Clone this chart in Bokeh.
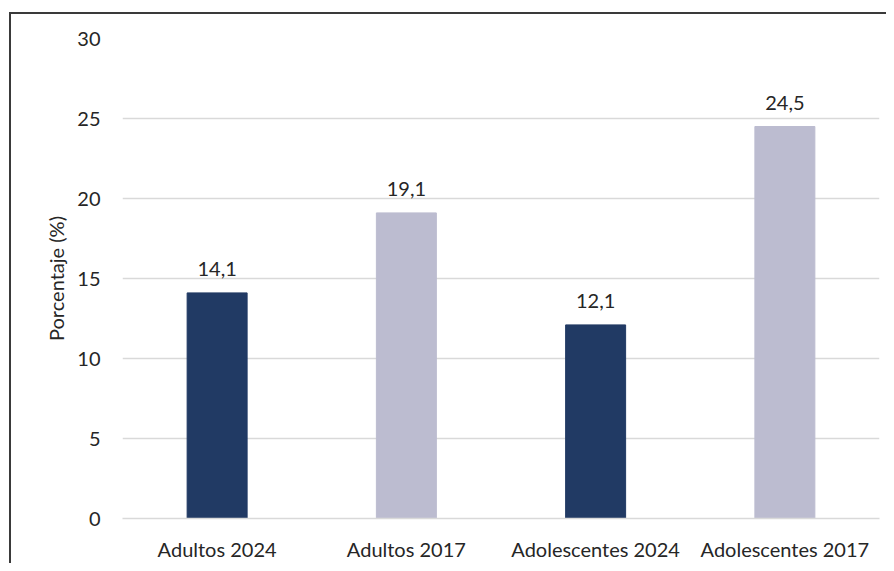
from bokeh.plotting import figure
from bokeh.models import ColumnDataSource, FixedTicker, LabelSet
from bokeh.core.properties import value
from bokeh.embed import file_html
from bokeh.resources import INLINE

categories = ["Adultos 2024", "Adultos 2017", "Adolescentes 2024", "Adolescentes 2017"]
values = [14.1, 19.1, 12.1, 24.5]
colors = ["#213a64", "#bcbcd0", "#213a64", "#bcbcd0"]
y_ticks = [0, 5, 10, 15, 20, 25, 30]
y_title = "Porcentaje (%)"

FONT = "Lato"
TEXT = "#262626"
FS = "20px"

labels = [f"{v:.1f}".replace(".", ",") for v in values]
src = ColumnDataSource(dict(cat=categories, val=values, col=colors, lab=labels))

p = figure(x_range=categories, y_range=(0, 30), width=886, height=563,
           output_backend="svg", toolbar_location=None,
           min_border_left=122, min_border_right=7, min_border_top=38, min_border_bottom=45)

p.vbar(x="cat", top="val", width=0.317, color="col", source=src)

p.add_layout(LabelSet(x="cat", y="val", text="lab", source=src, text_align="center",
                      text_baseline="alphabetic", y_offset=17, text_font=value(FONT),
                      text_font_size=FS, text_color=TEXT))

# transparent canvas so the chart-area frame (left and top edges) can be painted behind it
p.border_fill_color = None
p.background_fill_color = None
p.styles = {
    "background-color": "white",
    "background-image": "linear-gradient(#3a3a3a, #3a3a3a), linear-gradient(#3a3a3a, #3a3a3a)",
    "background-size": "2px 100%, 100% 2px",
    "background-position": "9px 12px, 9px 12px",
    "background-repeat": "no-repeat",
}

p.outline_line_color = None
p.xgrid.grid_line_color = None
p.ygrid.grid_line_color = "#d9d9d9"
p.ygrid.grid_line_width = 1.5
p.yaxis.ticker = FixedTicker(ticks=y_ticks)
p.yaxis.axis_line_color = None
p.yaxis.major_tick_line_color = None
p.yaxis.minor_tick_line_color = None
p.yaxis.major_label_standoff = 16
p.yaxis.axis_label = y_title
p.yaxis.axis_label_standoff = 6
p.yaxis.axis_label_text_font = FONT
p.yaxis.axis_label_text_font_style = "normal"
p.yaxis.axis_label_text_font_size = FS
p.yaxis.axis_label_text_color = TEXT
p.xaxis.axis_line_color = "#d9d9d9"
p.xaxis.axis_line_width = 1.5
p.xaxis.major_tick_line_color = None
p.xaxis.major_label_standoff = 12
for ax in (p.xaxis[0], p.yaxis[0]):
    ax.major_label_text_font = FONT
    ax.major_label_text_font_size = FS
    ax.major_label_text_color = TEXT

open("out.html", "w").write(file_html(p, INLINE))
